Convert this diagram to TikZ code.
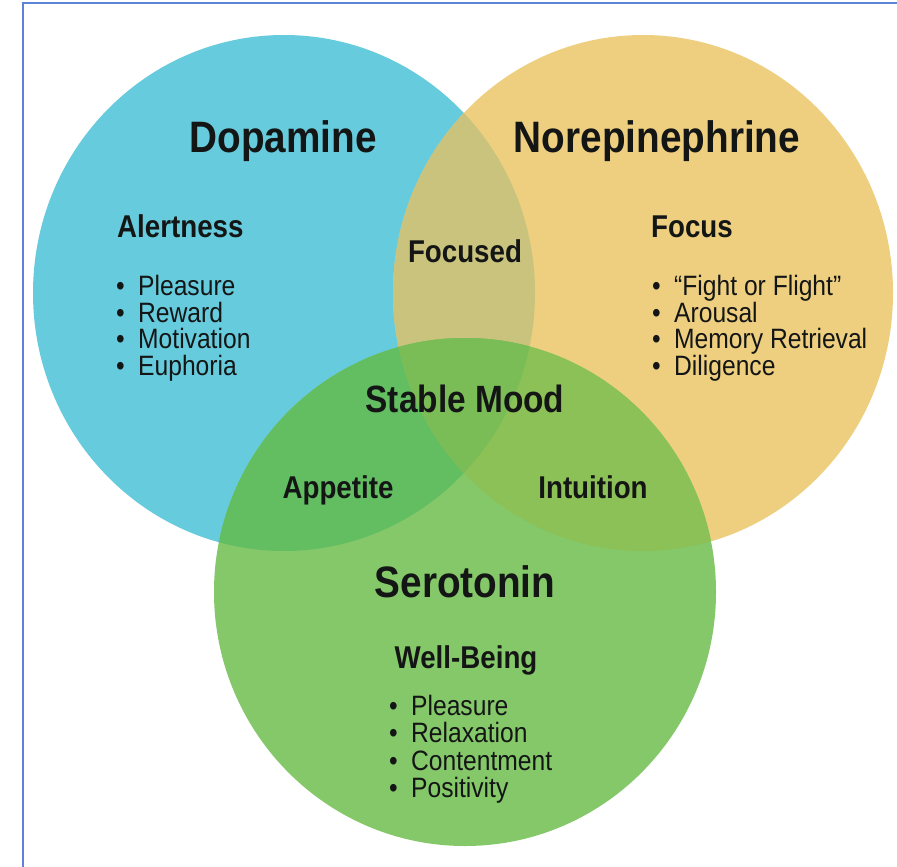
\documentclass[tikz,border=0pt]{standalone}
\usepackage{fontspec}
\setmainfont{Liberation Sans}[FakeStretch=0.88]

\definecolor{framecol}{HTML}{5B84D6}
\definecolor{dopablue}{HTML}{66CBDC}
\definecolor{noreyellow}{HTML}{EECF80}
\definecolor{serogreen}{HTML}{85C86A}
\definecolor{dnmix}{HTML}{C9C37D}
\definecolor{dsmix}{HTML}{63BE62}
\definecolor{nsmix}{HTML}{8BC156}
\definecolor{allmix}{HTML}{7ABD56}
\definecolor{ink}{HTML}{141616}

\tikzset{
  head/.style={font=\bfseries\fontsize{44}{44}\selectfont, text=ink, inner sep=0pt, anchor=base},
  sub/.style={font=\bfseries\fontsize{31.5}{32}\selectfont, text=ink, inner sep=0pt, anchor=base},
  subw/.style={sub, anchor=base west},
  item/.style={font=\fontsize{28}{28}\selectfont, text=ink, inner sep=0pt, anchor=base west},
  dopadisc/.style={x radius=251pt, y radius=258pt},
  noredisc/.style={x radius=250pt, y radius=258pt},
  serodisc/.style={x radius=251pt, y radius=254pt}
}
\newcommand{\bul}{\makebox[22pt][l]{\textbullet}}

\begin{document}
\begin{tikzpicture}[x=1pt, y=-1pt]

    \useasboundingbox (0,0) rectangle (897,867);
    \fill[white] (0,0) rectangle (897,867);

    % frame, only its top and left sides fall on the page
    \draw[framecol, line width=2pt] (23,867) -- (23,3) -- (897,3);

    % Define the three disc centres
    \coordinate (dopa) at (284,293);
    \coordinate (nore) at (643,293);
    \coordinate (sero) at (465,592);

    % the three discs
    \fill[dopablue] (dopa) ellipse[dopadisc];
    \fill[noreyellow] (nore) ellipse[noredisc];
    \fill[serogreen] (sero) ellipse[serodisc];

    % the overlaps
    \begin{scope}
        \clip (dopa) ellipse[dopadisc];
        \fill[dnmix] (nore) ellipse[noredisc];
        \fill[dsmix] (sero) ellipse[serodisc];
    \end{scope}
    \begin{scope}
        \clip (nore) ellipse[noredisc];
        \fill[nsmix] (sero) ellipse[serodisc];
        \clip (sero) ellipse[serodisc];
        \fill[allmix] (dopa) ellipse[dopadisc];
    \end{scope}

    % headings
    \node[head] (dopaname) at (283,152) {Dopamine};
    \node[head] (norename) at (657,152) {Norepinephrine};
    \node[head] (seroname) at (465,597) {Serotonin};

    % overlap labels
    \node[sub] (focused) at (465,262) {Focused};
    \node[sub, font=\bfseries\fontsize{38}{38}\selectfont] (mood) at (465,412) {Stable Mood};
    \node[sub] (appetite) at (338,498) {Appetite};
    \node[sub] (intuition) at (593,498) {Intuition};

    % Dopamine list
    \node[subw] (alert) at (117,237) {Alertness};
    \node[item] (d1) at (116,295) {\bul Pleasure};
    \node[item] (d2) at (116,322) {\bul Reward};
    \node[item] (d3) at (116,348) {\bul Motivation};
    \node[item] (d4) at (116,375) {\bul Euphoria};

    % Norepinephrine list
    \node[subw] (focus) at (651,237) {Focus};
    \node[item] (n1) at (652,295) {\bul “Fight or Flight”};
    \node[item] (n2) at (652,322) {\bul Arousal};
    \node[item] (n3) at (652,348) {\bul Memory Retrieval};
    \node[item] (n4) at (652,375) {\bul Diligence};

    % Serotonin list
    \node[sub] (well) at (466,668) {Well-Being};
    \node[item] (s1) at (389,715) {\bul Pleasure};
    \node[item] (s2) at (389,742) {\bul Relaxation};
    \node[item] (s3) at (389,770) {\bul Contentment};
    \node[item] (s4) at (389,797) {\bul Positivity};

\end{tikzpicture}
\end{document}
